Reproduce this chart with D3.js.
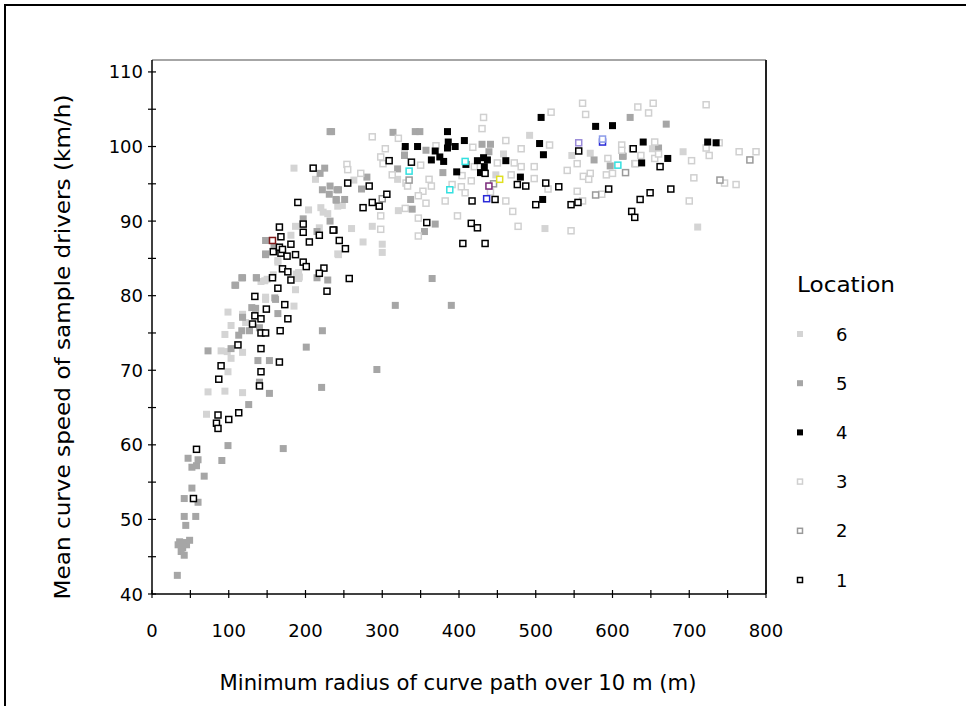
<!DOCTYPE html>
<html><head><meta charset="utf-8">
<script src="https://cdn.jsdelivr.net/npm/d3@7"></script>
<style>body{margin:0;background:#fff}svg{display:block}text{font-family:"DejaVu Sans",Verdana,sans-serif;fill:#000}</style>
</head><body>
<svg id="c" width="966" height="706"></svg>
<script>
// ---- data ----
const xTicks = [0,100,200,300,400,500,600,700,800];
const yTicks = [40,50,60,70,80,90,100,110];
const legendLabels = ["6","5","4","3","2","1"];
const xTitle = "Minimum radius of curve path over 10 m (m)";
const yTitle = "Mean curve speed of sample drivers (km/h)";
const legendTitle = "Location";

const loc6 = [[164,84.5],[147,82.0],[142,81.9],[158,82.8],[187,80.8],[188,82.9],[191,82.3],[148,79.5],[99,77.8],[185,78.6],[118,77.5],[122,76.4],[103,76.0],[95,74.8],[90,72.6],[103,71.6],[118,72.4],[98,72.5],[99,69.8],[73,67.1],[95,67.2],[118,67.0],[71,64.1],
[185,97.1],[213,95.6],[204,91.5],[220,91.8],[223,91.2],[229,91.0],[242,92.0],[187,89.3],[218,89.1],[181,88.1],[242,85.6],[164,84.7],[191,83.1],[192,82.5],[150,82.2],[148,79.8],
[329,99.4],[320,95.6],[263,95.5],[248,92.1],[243,92.1],[321,91.4],[287,89.3],[260,89.0],[300,86.9],[300,85.8],[243,85.5],[275,87.2],
[492,101.5],[458,99.0],[547,98.8],[571,99.1],[448,96.2],[512,89.0],[692,99.3],[711,89.2],[652,99.7]];

const loc5 = [[33,42.5],[34,46.6],[36,47],[40,46.2],[43,46.9],[38,45.7],[42,45.2],[45,46.6],[49,47.2],[44,49.2],[42,50.4],[57,50.4],[42,52.8],[52,54.2],[60,52.3],[68,55.8],[52,57],[58,57.2],[47,58.2],[60,58],[91,57.9],[99,59.9],[171,59.5],
[148,85.5],[118,82.4],[109,81.4],[136,82.4],[161,79.5],[130,78.4],[135,78.3],[164,77.6],[118,77.1],[117,75.3],[127,75.3],[113,74.7],[140,75.7],[103,72.9],[73,72.6],[138,71.3],[153,71.3],[201,73.1],[140,68.4],[153,66.9],[126,65.4],
[232,102.0],[225,97.1],[219,96.4],[232,94.7],[222,94.2],[241,94.2],[231,93.6],[240,92.9],[232,90.0],[197,90.3],[215,88.6],[148,87.4],[159,86.6],[148,85.6],[215,82.4],[229,82.1],[117,82.4],[136,82.4],[108,81.4],[160,79.7],
[314,101.9],[343,102.0],[349,102.0],[357,99.5],[329,98.8],[320,97.0],[379,96.5],[280,95.9],[273,94.3],[243,94.2],[251,92.9],[240,92.8],[337,92.9],[339,91.6],[369,89.6],[355,88.6],[430,100.3],[234,102.0],
[441,100.3],[439,99.3],[623,103.9],[576,98.2],[613,98.7],[597,97.4],[670,103.0],[614,98.7],[660,99.8],
[222,75.3],[221,67.7],[293,70.1],[317,78.7],[390,78.7],[365,82.3]];

const loc4 = [[385,102.0],[330,100.0],[346,100.0],[369,99.4],[386,100.6],[385,99.8],[395,100.0],[407,100.8],[375,98.6],[364,98.2],[380,98.0],[397,96.6],[409,97.6],[424,98.1],[432,98.5],[433,97.3],[437,98.2],[428,96.5],
[507,103.9],[600,102.8],[578,102.7],[505,100.4],[510,98.9],[461,98.1],[480,95.9],[509,92.9],[640,100.6],[638,97.8],[672,98.4],[724,100.6],[735,100.5]];

const loc3 = [[432,103.9],[430,102.4],[287,101.3],[321,101.1],[304,99.7],[298,98.6],[301,97.7],[254,97.6],[255,96.9],[272,96.4],[313,96.2],[350,97.5],[331,95.1],[361,95.6],[364,94.7],[353,94.0],[347,93.4],[333,94.7],[391,94.9],[403,94.6],[416,95.4],[420,97.3],[404,96.1],[418,99.9],[370,100.1],[357,92.4],[382,92.7],[408,93.8],[298,90.7],[298,88.9],[347,90.4],[347,88.0],[398,90.7],[330,91.7],
[561,105.8],[565,104.3],[520,104.6],[461,100.8],[481,99.7],[518,100.2],[472,97.8],[481,97.3],[498,97.3],[450,97.8],[498,95.7],[468,96.2],[541,96.8],[554,97.7],[594,98.4],[612,100.2],[626,99.7],[612,99.5],[629,97.7],[571,96.4],[562,96.0],[569,95.6],[592,96.2],[600,96.4],[516,94.3],[461,92.7],[470,91.3],[477,89.3],[546,88.7],[554,94.0],[586,93.6],[561,92.7],[441,93.9],
[633,105.3],[653,105.8],[647,104.5],[722,105.6],[655,100.6],[637,98.8],[655,98.4],[660,99.0],[630,97.7],[703,98.1],[726,98.8],[722,99.8],[739,100.5],[765,99.3],[787,99.3],[706,95.8],[746,95.1],[761,94.9],[700,92.7]];

const loc2 = [[779,98.2],[740,95.5],[335,95.5],[300,93.0],[445,95.0],[578,93.5],[617,96.5]];

const loc1 = [[100,63.4],[58,59.4],[54,52.8],
[158,85.9],[168,85.7],[176,85.3],[187,85.5],[197,84.5],[201,83.9],[170,83.6],[177,83.2],[181,82.1],[157,82.4],[164,81.0],[134,79.9],[173,78.8],[149,78.2],[134,77.3],[142,76.9],[131,76.2],[177,76.9],[142,75.0],[148,75.0],[167,75.3],[112,73.4],[142,72.9],[90,70.6],[166,71.1],[87,68.8],[142,69.8],[140,67.9],[86,64.0],[113,64.3],[84,62.9],[86,62.2],
[210,97.1],[190,92.5],[166,89.2],[197,89.6],[197,88.5],[168,87.9],[218,88.1],[237,88.8],[244,87.4],[205,87.2],[181,86.9],[166,86.5],[170,86.2],[224,83.7],[218,83.0],[228,80.6],
[309,98.1],[338,97.9],[255,95.1],[283,94.7],[306,93.6],[287,92.5],[296,92.0],[275,91.8],[236,88.8],[252,86.3],[358,89.8],[416,89.7],[424,89.1],[405,87.0],[434,87.0],[417,92.7],[434,96.4],
[476,94.9],[487,94.7],[513,95.1],[530,94.6],[500,92.2],[546,92.2],[555,92.5],[556,99.4],[595,94.3],[625,91.3],[629,90.5],[447,92.9],
[627,99.7],[662,97.3],[676,94.3],[649,93.8],[636,92.9],[257,82.3]];

// a few outlined points drawn in other colours
const accentPts = [[335,96.7],[388,94.2],[408,98.0],[607,97.5],[436,93.0],[587,100.6],[439,94.7],[556,100.5],[587,101.0],[453,95.6],[157,87.4]];
const accentColors = ["#33e0e0","#33e0e0","#33e0e0","#33e0e0","#2a2ad8","#2a2ad8","#7a2a7a","#9a8ad8","#8a9ae8","#e0e020","#801818"];

// ---- drawing ----
const svg = d3.select("#c");
const X0=152, X1=766, Y0=594, Y1=60;
const x = d3.scaleLinear().domain([0,800]).range([X0,X1]);
const y = d3.scaleLinear().domain([40,111.6]).range([Y0,Y1]);

// outer frame
svg.append("rect").attr("x",5).attr("y",5).attr("width",1000).attr("height",1000)
  .attr("fill","none").attr("stroke","#000").attr("stroke-width",2);

// plot box top (grey) & right (dark)
svg.append("line").attr("x1",X0).attr("x2",X1).attr("y1",Y1).attr("y2",Y1).attr("stroke","#888").attr("stroke-width",1.5);
svg.append("line").attr("x1",X1).attr("x2",X1).attr("y1",Y1).attr("y2",Y0).attr("stroke","#222").attr("stroke-width",2);

// minor/major ticks crossing axis
const gx = svg.append("g");
gx.selectAll("line.t").data(d3.range(0,801,50)).join("line")
  .attr("x1",d=>x(d)).attr("x2",d=>x(d)).attr("y1",Y0-4).attr("y2",Y0+4).attr("stroke","#000").attr("stroke-width",1.2);
const gy = svg.append("g");
gy.selectAll("line.t").data(d3.range(40,111,5)).join("line")
  .attr("y1",d=>y(d)).attr("y2",d=>y(d)).attr("x1",X0-4).attr("x2",X0+4).attr("stroke","#000").attr("stroke-width",1.2);

// axis lines
svg.append("line").attr("x1",X0).attr("x2",X1).attr("y1",Y0).attr("y2",Y0).attr("stroke","#000").attr("stroke-width",1.5);
svg.append("line").attr("x1",X0).attr("x2",X0).attr("y1",Y1).attr("y2",Y0).attr("stroke","#000").attr("stroke-width",1.5);

// tick labels
svg.selectAll("text.xt").data(xTicks).join("text").attr("class","xt")
  .attr("x",d=>x(d)).attr("y",637).attr("text-anchor","middle").attr("font-size",18).text(d=>d);
svg.selectAll("text.yt").data(yTicks).join("text").attr("class","yt")
  .attr("x",143).attr("y",d=>y(d)+6.5).attr("text-anchor","end").attr("font-size",18).text(d=>d);

// titles
svg.append("text").attr("x",458).attr("y",690).attr("text-anchor","middle").attr("font-size",21)
  .attr("textLength",477).attr("lengthAdjust","spacingAndGlyphs").text(xTitle);
svg.append("text").attr("transform","translate(70,347) rotate(-90)").attr("text-anchor","middle").attr("font-size",21)
  .attr("textLength",505).attr("lengthAdjust","spacingAndGlyphs").text(yTitle);

// marker styles
const styles = {
  "6":{fill:"#d4d4d4",stroke:"none"},
  "5":{fill:"#a6a6a6",stroke:"none"},
  "4":{fill:"#000",stroke:"none"},
  "3":{fill:"#fff",stroke:"#d0d0d0"},
  "2":{fill:"#fff",stroke:"#9a9a9a"},
  "1":{fill:"#fff",stroke:"#000"}
};
function drawSeries(data, st, g){
  const filled = st.stroke==="none";
  const s = filled?7:6;
  g.selectAll("rect").data(data).join("rect")
    .attr("x",d=>x(d[0])-s/2).attr("y",d=>y(d[1])-s/2)
    .attr("width",s).attr("height",s)
    .attr("fill",st.fill).attr("stroke",st.stroke).attr("stroke-width",filled?0:1.5);
}
const plotG = svg.append("g");
const seriesMap = {"6":loc6,"5":loc5,"3":loc3,"2":loc2,"4":loc4,"1":loc1};
["6","5","3","2","4","1"].forEach(k=>drawSeries(seriesMap[k],styles[k],plotG.append("g")));
plotG.append("g").selectAll("rect").data(accentPts).join("rect")
  .attr("x",d=>x(d[0])-3).attr("y",d=>y(d[1])-3).attr("width",6).attr("height",6)
  .attr("fill","#fff").attr("stroke",(d,i)=>accentColors[i]).attr("stroke-width",1.5);

// legend
svg.append("text").attr("x",797).attr("y",292).attr("font-size",21)
  .attr("textLength",98).attr("lengthAdjust","spacingAndGlyphs").text(legendTitle);
const lg = svg.append("g");
legendLabels.forEach((lab,i)=>{
  const cy = 334 + i*49.2;
  const st = styles[lab];
  const filled = st.stroke==="none";
  const s = filled?6:5;
  lg.append("rect").attr("x",800-s/2).attr("y",cy-s/2).attr("width",s).attr("height",s)
    .attr("fill",st.fill).attr("stroke",st.stroke).attr("stroke-width",filled?0:1.5);
  lg.append("text").attr("x",836).attr("y",cy+6.5).attr("font-size",18).text(lab);
});
</script>
</body></html>
